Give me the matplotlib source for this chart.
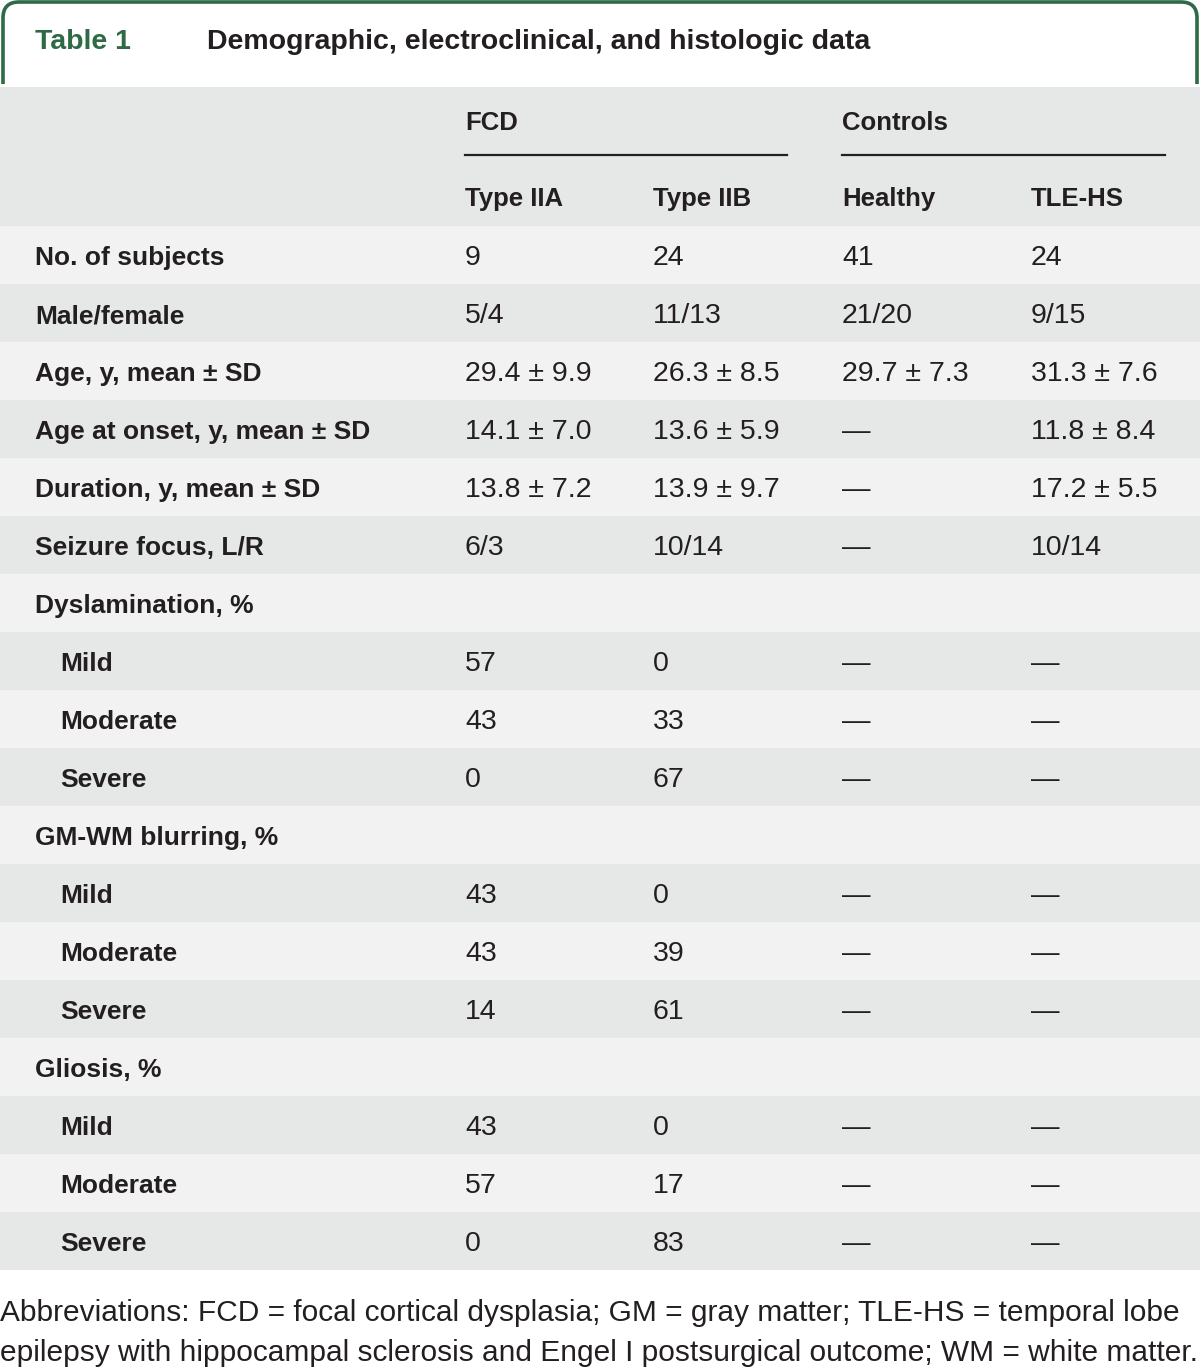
import matplotlib.pyplot as plt
from matplotlib.patches import Rectangle
from matplotlib.path import Path
from matplotlib.patches import PathPatch

plt.rcParams['font.family'] = ['Liberation Sans', 'DejaVu Sans']

# Table content
groups = ["FCD", "Controls"]
columns = ["Type IIA", "Type IIB", "Healthy", "TLE-HS"]
row_labels = ["No. of subjects", "Male/female", "Age, y, mean \u00b1 SD",
              "Age at onset, y, mean \u00b1 SD", "Duration, y, mean \u00b1 SD",
              "Seizure focus, L/R", "Dyslamination, %", "Mild", "Moderate", "Severe",
              "GM-WM blurring, %", "Mild", "Moderate", "Severe",
              "Gliosis, %", "Mild", "Moderate", "Severe"]
indented = [False] * 7 + [True] * 3 + [False] + [True] * 3 + [False] + [True] * 3
D = "\u2014"
type_iia = ["9", "5/4", "29.4 \u00b1 9.9", "14.1 \u00b1 7.0", "13.8 \u00b1 7.2", "6/3", "",
            "57", "43", "0", "", "43", "43", "14", "", "43", "57", "0"]
type_iib = ["24", "11/13", "26.3 \u00b1 8.5", "13.6 \u00b1 5.9", "13.9 \u00b1 9.7", "10/14", "",
            "0", "33", "67", "", "0", "39", "61", "", "0", "17", "83"]
healthy = ["41", "21/20", "29.7 \u00b1 7.3", D, D, D, "", D, D, D, "", D, D, D, "", D, D, D]
tle_hs = ["24", "9/15", "31.3 \u00b1 7.6", "11.8 \u00b1 8.4", "17.2 \u00b1 5.5", "10/14", "",
          D, D, D, "", D, D, D, "", D, D, D]
title_num = "Table 1"
title = "Demographic, electroclinical, and histologic data"
footnote = ["Abbreviations: FCD = focal cortical dysplasia; GM = gray matter; TLE-HS = temporal lobe",
            "epilepsy with hippocampal sclerosis and Engel I postsurgical outcome; WM = white matter."]

green = "#2d6a45"
ink = "#231f20"
light = "#f2f2f2"
dark = "#e6e7e7"

fig = plt.figure(figsize=(12, 13.68), dpi=100)
ax = fig.add_axes([0, 0, 1, 1])
ax.set_xlim(0, 1200)
ax.set_ylim(1368, 0)
ax.axis("off")

# green tab outline with rounded corners
r = 16
verts = [(3, 84), (3, 2 + r), (3, 2), (3 + r, 2), (1197 - r, 2), (1197, 2), (1197, 2 + r), (1197, 84)]
codes = [Path.MOVETO, Path.LINETO, Path.CURVE3, Path.CURVE3, Path.LINETO, Path.CURVE3, Path.CURVE3, Path.LINETO]
ax.add_patch(PathPatch(Path(verts, codes), fill=False, edgecolor=green, lw=2.6))
ax.text(35, 42, title_num, color=green, fontsize=20.5, fontweight="bold", va="center")
ax.text(207, 42, title, color=ink, fontsize=20.5, fontweight="bold", va="center")

# header band
ax.add_patch(Rectangle((0, 87), 1200, 139, color=dark, lw=0))
col_x = [465, 653, 842, 1031]
for g, x0, x1 in zip(groups, [465, 842], [787, 1165]):
    ax.text(x0, 123, g, color=ink, fontsize=18.5, fontweight="bold", va="center")
    ax.plot([x0, x1], [155, 155], color=ink, lw=1.6)
for c, x in zip(columns, col_x):
    ax.text(x, 199, c, color=ink, fontsize=18.5, fontweight="bold", va="center")

# body rows
row_h = 58
top = 226
for i, lab in enumerate(row_labels):
    y0 = top + i * row_h
    ax.add_patch(Rectangle((0, y0), 1200, row_h, color=light if i % 2 == 0 else dark, lw=0))
    yc = y0 + row_h / 2 + 3
    ax.text(60 if indented[i] else 35, yc, lab, color=ink, fontsize=19, fontweight="bold", va="center")
    for vals, x in zip([type_iia, type_iib, healthy, tle_hs], col_x):
        ax.text(x, yc, vals[i], color=ink, fontsize=20.5, va="center")

for k, line in enumerate(footnote):
    ax.text(0, 1313 + k * 40, line, color=ink, fontsize=21.5, va="center")

fig.savefig("out.png", dpi=100)
